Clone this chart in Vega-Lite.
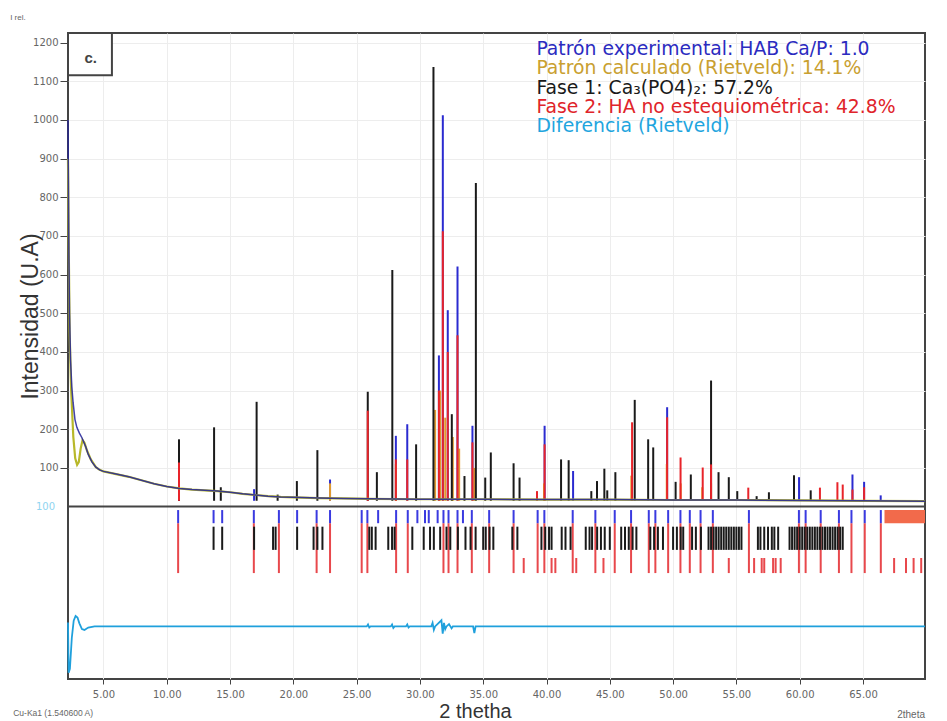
{
 "$schema": "https://vega.github.io/schema/vega-lite/v6.json",
 "width": 857, "height": 646,
 "autosize": {"type": "none"},
 "padding": {"left": 68, "top": 33, "right": 22, "bottom": 42},
 "background": "white",
 "config": {
  "view": {"stroke": "#444", "strokeWidth": 2},
  "font": "Liberation Sans"
 },
 "datasets": {
  "one": [{"k": 1}],
  "bg_exp": [
   {"t": 2.2, "v": 1000}, {"t": 2.23, "v": 850}, {"t": 2.27, "v": 650}, {"t": 2.32, "v": 500}, {"t": 2.4, "v": 380}, {"t": 2.5, "v": 310}, {"t": 2.6, "v": 270}, {"t": 2.75, "v": 225}, {"t": 2.9, "v": 205}, {"t": 3.1, "v": 190}, {"t": 3.3, "v": 178}, {"t": 3.6, "v": 155}, {"t": 3.8, "v": 135}, {"t": 4.1, "v": 115}, {"t": 4.4, "v": 102}, {"t": 4.7, "v": 95}, {"t": 5.0, "v": 91}, {"t": 6.0, "v": 84}, {"t": 7.0, "v": 77}, {"t": 8.0, "v": 68}, {"t": 9.0, "v": 59}, {"t": 10.0, "v": 52}, {"t": 11.0, "v": 47}, {"t": 12.0, "v": 44}, {"t": 13.0, "v": 42}, {"t": 14.0, "v": 40}, {"t": 15.0, "v": 37}, {"t": 16.0, "v": 33}, {"t": 17.0, "v": 30}, {"t": 18.0, "v": 27}, {"t": 19.0, "v": 25}, {"t": 20.0, "v": 24}, {"t": 22.0, "v": 22}, {"t": 24.0, "v": 21}, {"t": 26.0, "v": 20}, {"t": 30.0, "v": 19}, {"t": 35.0, "v": 19}, {"t": 40.0, "v": 18}, {"t": 45.0, "v": 18}, {"t": 50.0, "v": 17}, {"t": 55.0, "v": 17}, {"t": 60.0, "v": 16}, {"t": 65.0, "v": 15}, {"t": 69.9, "v": 14}
  ],
  "bg_calc": [
   {"t": 2.2, "v": 900}, {"t": 2.25, "v": 700}, {"t": 2.33, "v": 450}, {"t": 2.45, "v": 300}, {"t": 2.62, "v": 180}, {"t": 2.77, "v": 125}, {"t": 2.92, "v": 108}, {"t": 3.05, "v": 115}, {"t": 3.2, "v": 150}, {"t": 3.35, "v": 172}, {"t": 3.5, "v": 165}, {"t": 3.7, "v": 145}, {"t": 4.0, "v": 122}, {"t": 4.4, "v": 102}, {"t": 4.7, "v": 95}, {"t": 5.0, "v": 91}, {"t": 6.0, "v": 84}, {"t": 7.0, "v": 77}, {"t": 8.0, "v": 68}, {"t": 9.0, "v": 59}, {"t": 10.0, "v": 52}, {"t": 11.0, "v": 47}, {"t": 12.0, "v": 44}, {"t": 13.0, "v": 42}, {"t": 14.0, "v": 40}, {"t": 15.0, "v": 37}, {"t": 16.0, "v": 33}, {"t": 17.0, "v": 30}, {"t": 18.0, "v": 27}, {"t": 19.0, "v": 25}, {"t": 20.0, "v": 24}, {"t": 22.0, "v": 22}, {"t": 24.0, "v": 21}, {"t": 26.0, "v": 20}, {"t": 30.0, "v": 19}, {"t": 35.0, "v": 19}, {"t": 40.0, "v": 18}, {"t": 45.0, "v": 18}, {"t": 50.0, "v": 17}, {"t": 55.0, "v": 17}, {"t": 60.0, "v": 16}, {"t": 65.0, "v": 15}, {"t": 69.9, "v": 14}
  ],
  "sticks": [
   {"t": 10.97, "v": 120, "s": "exp"}, {"t": 16.9, "v": 45, "s": "exp"}, {"t": 22.9, "v": 70, "s": "exp"}, {"t": 28.1, "v": 183, "s": "exp"}, {"t": 29.0, "v": 213, "s": "exp"}, {"t": 31.5, "v": 391, "s": "exp"}, {"t": 31.81, "v": 1012, "s": "exp"}, {"t": 32.2, "v": 508, "s": "exp"}, {"t": 32.97, "v": 621, "s": "exp"}, {"t": 34.15, "v": 209, "s": "exp"}, {"t": 39.85, "v": 209, "s": "exp"}, {"t": 42.1, "v": 92, "s": "exp"}, {"t": 49.53, "v": 257, "s": "exp"}, {"t": 59.95, "v": 76, "s": "exp"}, {"t": 64.17, "v": 83, "s": "exp"}, {"t": 65.09, "v": 64, "s": "exp"}, {"t": 66.4, "v": 29, "s": "exp"},
   {"t": 22.9, "v": 60, "s": "calc"}, {"t": 28.1, "v": 110, "s": "calc"}, {"t": 31.2, "v": 250, "s": "calc"}, {"t": 31.6, "v": 300, "s": "calc"}, {"t": 32.0, "v": 230, "s": "calc"}, {"t": 32.6, "v": 180, "s": "calc"}, {"t": 33.1, "v": 150, "s": "calc"}, {"t": 34.3, "v": 100, "s": "calc"}, {"t": 39.8, "v": 60, "s": "calc"}, {"t": 46.7, "v": 80, "s": "calc"}, {"t": 49.5, "v": 110, "s": "calc"}, {"t": 50.6, "v": 60, "s": "calc"}, {"t": 52.3, "v": 50, "s": "calc"}, {"t": 53.0, "v": 60, "s": "calc"},
   {"t": 10.97, "v": 174, "s": "f1"}, {"t": 13.74, "v": 205, "s": "f1"}, {"t": 14.27, "v": 50, "s": "f1"}, {"t": 17.1, "v": 271, "s": "f1"}, {"t": 18.76, "v": 31, "s": "f1"}, {"t": 20.28, "v": 66, "s": "f1"}, {"t": 21.9, "v": 146, "s": "f1"}, {"t": 25.88, "v": 297, "s": "f1"}, {"t": 26.6, "v": 89, "s": "f1"}, {"t": 27.82, "v": 612, "s": "f1"}, {"t": 29.7, "v": 161, "s": "f1"}, {"t": 31.07, "v": 1137, "s": "f1"}, {"t": 32.52, "v": 239, "s": "f1"}, {"t": 33.52, "v": 79, "s": "f1"}, {"t": 34.42, "v": 837, "s": "f1"}, {"t": 35.16, "v": 75, "s": "f1"}, {"t": 35.6, "v": 140, "s": "f1"}, {"t": 37.4, "v": 112, "s": "f1"}, {"t": 37.87, "v": 75, "s": "f1"}, {"t": 41.15, "v": 122, "s": "f1"}, {"t": 41.75, "v": 120, "s": "f1"}, {"t": 43.54, "v": 40, "s": "f1"}, {"t": 43.99, "v": 66, "s": "f1"}, {"t": 44.57, "v": 98, "s": "f1"}, {"t": 44.8, "v": 42, "s": "f1"}, {"t": 45.44, "v": 89, "s": "f1"}, {"t": 46.97, "v": 276, "s": "f1"}, {"t": 48.03, "v": 174, "s": "f1"}, {"t": 48.43, "v": 153, "s": "f1"}, {"t": 50.2, "v": 64, "s": "f1"}, {"t": 51.4, "v": 83, "s": "f1"}, {"t": 53.0, "v": 326, "s": "f1"}, {"t": 53.59, "v": 89, "s": "f1"}, {"t": 54.4, "v": 76, "s": "f1"}, {"t": 55.07, "v": 40, "s": "f1"}, {"t": 56.6, "v": 27, "s": "f1"}, {"t": 57.57, "v": 37, "s": "f1"}, {"t": 59.55, "v": 81, "s": "f1"}, {"t": 60.87, "v": 42, "s": "f1"},
   {"t": 10.97, "v": 114, "s": "f2"}, {"t": 25.88, "v": 248, "s": "f2"}, {"t": 28.1, "v": 122, "s": "f2"}, {"t": 29.0, "v": 122, "s": "f2"}, {"t": 31.5, "v": 300, "s": "f2"}, {"t": 31.81, "v": 712, "s": "f2"}, {"t": 32.2, "v": 400, "s": "f2"}, {"t": 32.97, "v": 443, "s": "f2"}, {"t": 34.15, "v": 166, "s": "f2"}, {"t": 39.25, "v": 40, "s": "f2"}, {"t": 39.85, "v": 161, "s": "f2"}, {"t": 46.76, "v": 218, "s": "f2"}, {"t": 49.53, "v": 231, "s": "f2"}, {"t": 50.59, "v": 127, "s": "f2"}, {"t": 52.34, "v": 101, "s": "f2"}, {"t": 53.0, "v": 109, "s": "f2"}, {"t": 55.94, "v": 49, "s": "f2"}, {"t": 61.6, "v": 49, "s": "f2"}, {"t": 62.98, "v": 63, "s": "f2"}, {"t": 63.4, "v": 57, "s": "f2"}, {"t": 64.17, "v": 44, "s": "f2"}, {"t": 65.09, "v": 50, "s": "f2"}
  ],
  "ticks": [
   {"t": 10.9, "row": "blue"}, {"t": 13.7, "row": "blue"}, {"t": 14.38, "row": "blue"}, {"t": 16.88, "row": "blue"}, {"t": 18.86, "row": "blue"}, {"t": 20.3, "row": "blue"}, {"t": 21.84, "row": "blue"}, {"t": 22.9, "row": "blue"}, {"t": 25.4, "row": "blue"}, {"t": 25.85, "row": "blue"}, {"t": 26.7, "row": "blue"}, {"t": 28.12, "row": "blue"}, {"t": 29.04, "row": "blue"}, {"t": 29.8, "row": "blue"}, {"t": 30.4, "row": "blue"}, {"t": 30.7, "row": "blue"}, {"t": 31.4, "row": "blue"}, {"t": 31.86, "row": "blue"}, {"t": 32.26, "row": "blue"}, {"t": 32.97, "row": "blue"}, {"t": 33.4, "row": "blue"}, {"t": 34.1, "row": "blue"}, {"t": 35.47, "row": "blue"}, {"t": 37.4, "row": "blue"}, {"t": 39.3, "row": "blue"}, {"t": 39.83, "row": "blue"}, {"t": 42.07, "row": "blue"}, {"t": 43.86, "row": "blue"}, {"t": 45.39, "row": "blue"}, {"t": 46.68, "row": "blue"}, {"t": 48.08, "row": "blue"}, {"t": 48.6, "row": "blue"}, {"t": 49.61, "row": "blue"}, {"t": 50.58, "row": "blue"}, {"t": 51.32, "row": "blue"}, {"t": 52.17, "row": "blue"}, {"t": 53.14, "row": "blue"}, {"t": 55.99, "row": "blue"}, {"t": 59.94, "row": "blue"}, {"t": 60.47, "row": "blue"}, {"t": 61.66, "row": "blue"}, {"t": 63.1, "row": "blue"}, {"t": 64.09, "row": "blue"}, {"t": 65.14, "row": "blue"}, {"t": 66.41, "row": "blue"},
   {"t": 10.9, "row": "redlong"}, {"t": 16.88, "row": "redlong"}, {"t": 18.86, "row": "redlong"}, {"t": 21.84, "row": "redlong"}, {"t": 22.9, "row": "redlong"}, {"t": 25.4, "row": "redlong"}, {"t": 25.85, "row": "redlong"}, {"t": 28.12, "row": "redlong"}, {"t": 29.04, "row": "redlong"}, {"t": 31.86, "row": "redlong"}, {"t": 32.26, "row": "redlong"}, {"t": 32.97, "row": "redlong"}, {"t": 34.1, "row": "redlong"}, {"t": 35.47, "row": "redlong"}, {"t": 37.4, "row": "redlong"}, {"t": 39.3, "row": "redlong"}, {"t": 39.83, "row": "redlong"}, {"t": 42.07, "row": "redlong"}, {"t": 43.86, "row": "redlong"}, {"t": 45.39, "row": "redlong"}, {"t": 46.68, "row": "redlong"}, {"t": 48.08, "row": "redlong"}, {"t": 48.6, "row": "redlong"}, {"t": 49.61, "row": "redlong"}, {"t": 50.58, "row": "redlong"}, {"t": 51.32, "row": "redlong"}, {"t": 52.17, "row": "redlong"}, {"t": 53.14, "row": "redlong"}, {"t": 55.99, "row": "redlong"}, {"t": 59.94, "row": "redlong"}, {"t": 60.47, "row": "redlong"}, {"t": 61.66, "row": "redlong"}, {"t": 63.1, "row": "redlong"}, {"t": 64.09, "row": "redlong"}, {"t": 65.14, "row": "redlong"}, {"t": 66.41, "row": "redlong"},
   {"t": 38.2, "row": "redshort"}, {"t": 40.4, "row": "redshort"}, {"t": 40.7, "row": "redshort"}, {"t": 42.35, "row": "redshort"}, {"t": 44.5, "row": "redshort"}, {"t": 54.4, "row": "redshort"}, {"t": 56.4, "row": "redshort"}, {"t": 57.0, "row": "redshort"}, {"t": 57.2, "row": "redshort"}, {"t": 57.9, "row": "redshort"}, {"t": 58.1, "row": "redshort"}, {"t": 58.5, "row": "redshort"}, {"t": 67.46, "row": "redshort"}, {"t": 68.4, "row": "redshort"}, {"t": 69.0, "row": "redshort"}, {"t": 69.6, "row": "redshort"},
   {"t": 13.7, "row": "black"}, {"t": 14.38, "row": "black"}, {"t": 16.9, "row": "black"}, {"t": 18.4, "row": "black"}, {"t": 18.6, "row": "black"}, {"t": 20.3, "row": "black"}, {"t": 21.6, "row": "black"}, {"t": 21.9, "row": "black"}, {"t": 22.3, "row": "black"}, {"t": 26.0, "row": "black"}, {"t": 26.2, "row": "black"}, {"t": 26.5, "row": "black"}, {"t": 27.5, "row": "black"}, {"t": 27.8, "row": "black"}, {"t": 28.0, "row": "black"}, {"t": 29.4, "row": "black"}, {"t": 30.3, "row": "black"}, {"t": 30.8, "row": "black"}, {"t": 31.1, "row": "black"}, {"t": 31.6, "row": "black"}, {"t": 32.1, "row": "black"}, {"t": 32.4, "row": "black"}, {"t": 33.0, "row": "black"}, {"t": 33.6, "row": "black"}, {"t": 34.0, "row": "black"}, {"t": 34.4, "row": "black"}, {"t": 35.0, "row": "black"}, {"t": 35.2, "row": "black"}, {"t": 35.5, "row": "black"}, {"t": 35.8, "row": "black"}, {"t": 37.3, "row": "black"}, {"t": 37.7, "row": "black"}, {"t": 39.6, "row": "black"}, {"t": 39.9, "row": "black"}, {"t": 40.2, "row": "black"}, {"t": 40.4, "row": "black"}, {"t": 41.2, "row": "black"}, {"t": 41.5, "row": "black"}, {"t": 41.9, "row": "black"}, {"t": 43.1, "row": "black"}, {"t": 43.4, "row": "black"}, {"t": 43.6, "row": "black"}, {"t": 44.0, "row": "black"}, {"t": 44.3, "row": "black"}, {"t": 44.6, "row": "black"}, {"t": 45.0, "row": "black"}, {"t": 45.9, "row": "black"}, {"t": 46.2, "row": "black"}, {"t": 46.5, "row": "black"}, {"t": 46.8, "row": "black"}, {"t": 47.1, "row": "black"}, {"t": 48.2, "row": "black"}, {"t": 48.5, "row": "black"}, {"t": 48.8, "row": "black"}, {"t": 49.2, "row": "black"}, {"t": 50.0, "row": "black"}, {"t": 50.3, "row": "black"}, {"t": 50.6, "row": "black"}, {"t": 50.8, "row": "black"}, {"t": 51.5, "row": "black"}, {"t": 51.8, "row": "black"}, {"t": 52.2, "row": "black"}, {"t": 52.8, "row": "black"}, {"t": 53.0, "row": "black"}, {"t": 53.2, "row": "black"}, {"t": 53.4, "row": "black"}, {"t": 53.6, "row": "black"}, {"t": 53.8, "row": "black"}, {"t": 54.0, "row": "black"}, {"t": 54.2, "row": "black"}, {"t": 54.4, "row": "black"}, {"t": 54.6, "row": "black"}, {"t": 54.8, "row": "black"}, {"t": 55.0, "row": "black"}, {"t": 55.2, "row": "black"}, {"t": 55.4, "row": "black"}, {"t": 56.7, "row": "black"}, {"t": 56.9, "row": "black"}, {"t": 57.2, "row": "black"}, {"t": 57.5, "row": "black"}, {"t": 57.8, "row": "black"}, {"t": 58.0, "row": "black"}, {"t": 58.3, "row": "black"}, {"t": 59.2, "row": "black"}, {"t": 59.4, "row": "black"}, {"t": 59.6, "row": "black"}, {"t": 59.8, "row": "black"}, {"t": 60.0, "row": "black"}, {"t": 60.2, "row": "black"}, {"t": 60.4, "row": "black"}, {"t": 60.6, "row": "black"}, {"t": 60.8, "row": "black"}, {"t": 61.0, "row": "black"}, {"t": 61.2, "row": "black"}, {"t": 61.4, "row": "black"}, {"t": 61.6, "row": "black"}, {"t": 61.8, "row": "black"}, {"t": 62.0, "row": "black"}, {"t": 62.2, "row": "black"}, {"t": 62.4, "row": "black"}, {"t": 62.6, "row": "black"}, {"t": 62.8, "row": "black"}, {"t": 63.0, "row": "black"}, {"t": 63.2, "row": "black"}, {"t": 63.4, "row": "black"}
  ],
  "diff": [
   {"t": 2.2, "v": -300}, {"t": 2.25, "v": -430}, {"t": 2.35, "v": -420}, {"t": 2.5, "v": -340}, {"t": 2.65, "v": -295}, {"t": 2.8, "v": -283}, {"t": 2.95, "v": -287}, {"t": 3.1, "v": -302}, {"t": 3.3, "v": -317}, {"t": 3.5, "v": -319}, {"t": 3.8, "v": -313}, {"t": 4.3, "v": -310}, {"t": 25.8, "v": -310}, {"t": 25.9, "v": -305}, {"t": 26.0, "v": -313}, {"t": 26.1, "v": -310}, {"t": 27.7, "v": -310}, {"t": 27.8, "v": -305}, {"t": 27.9, "v": -314}, {"t": 28.0, "v": -310}, {"t": 28.9, "v": -310}, {"t": 29.0, "v": -305}, {"t": 29.1, "v": -313}, {"t": 29.2, "v": -310}, {"t": 30.9, "v": -310}, {"t": 31.0, "v": -301}, {"t": 31.1, "v": -319}, {"t": 31.2, "v": -310}, {"t": 31.7, "v": -294}, {"t": 31.8, "v": -329}, {"t": 31.9, "v": -301}, {"t": 32.0, "v": -317}, {"t": 32.1, "v": -310}, {"t": 32.3, "v": -304}, {"t": 32.5, "v": -315}, {"t": 32.6, "v": -310}, {"t": 34.2, "v": -310}, {"t": 34.3, "v": -327}, {"t": 34.4, "v": -310}, {"t": 69.9, "v": -310}
  ]
 },
 "layer": [
  {
   "data": {"name": "sticks"},
   "mark": {"type": "rule", "strokeWidth": 2},
   "encoding": {
    "x": {"field": "t", "type": "quantitative", "scale": {"domain": [2.2, 69.9], "nice": false, "zero": false},
      "axis": {"values": [5, 10, 15, 20, 25, 30, 35, 40, 45, 50, 55, 60, 65], "format": ".2f", "labelFont": "DejaVu Sans", "labelFontSize": 10, "labelColor": "#666", "tickColor": "#444", "tickSize": 5, "labelPadding": 5, "domain": false, "grid": true, "gridColor": "#ededed", "title": "2 thetha", "titleFont": "Liberation Sans", "titleFontSize": 20, "titleFontWeight": "normal", "titleColor": "#333", "titleX": 407, "titleY": 38, "titleBaseline": "alphabetic", "titleAlign": "center"}},
    "y": {"field": "v", "type": "quantitative", "scale": {"domain": [-446, 1225], "nice": false, "zero": false},
      "axis": {"values": [100, 200, 300, 400, 500, 600, 700, 800, 900, 1000, 1100, 1200], "format": "d", "labelFont": "DejaVu Sans", "labelFontSize": 10, "labelColor": "#666", "tickColor": "#444", "tickSize": 8, "labelPadding": 2, "domain": false, "grid": true, "gridColor": "#ededed", "title": "Intensidad (U.A)", "titleFont": "Liberation Sans", "titleFontSize": 23, "titleFontWeight": "normal", "titleColor": "#333", "titleX": -31, "titleY": 283, "titleAngle": -90, "titleBaseline": "alphabetic", "titleAlign": "center"}},
    "y2": {"datum": 15},
    "color": {"field": "s", "type": "nominal", "scale": {"domain": ["exp", "calc", "f1", "f2"], "range": ["#2b2bd0", "#e09a30", "#1a1a1a", "#e8242a"]}, "legend": null}
   }
  },
  {
   "data": {"name": "bg_calc"},
   "mark": {"type": "line", "color": "#b8b82a", "strokeWidth": 2.2},
   "encoding": {"x": {"field": "t", "type": "quantitative"}, "y": {"field": "v", "type": "quantitative"}}
  },
  {
   "data": {"name": "bg_exp"},
   "mark": {"type": "line", "color": "#22229a", "strokeWidth": 1.5, "opacity": 0.85},
   "encoding": {"x": {"field": "t", "type": "quantitative"}, "y": {"field": "v", "type": "quantitative"}}
  },
  {
   "data": {"name": "one"},
   "mark": {"type": "rule", "color": "#444", "strokeWidth": 2},
   "encoding": {"y": {"datum": 0}}
  },
  {
   "data": {"name": "ticks"},
   "transform": [{"filter": "datum.row === 'redlong'"}],
   "mark": {"type": "rule", "color": "#e8484c", "strokeWidth": 2},
   "encoding": {"x": {"field": "t", "type": "quantitative"}, "y": {"datum": -43}, "y2": {"datum": -172}}
  },
  {
   "data": {"name": "ticks"},
   "transform": [{"filter": "datum.row === 'redshort'"}],
   "mark": {"type": "rule", "color": "#e8484c", "strokeWidth": 2},
   "encoding": {"x": {"field": "t", "type": "quantitative"}, "y": {"datum": -133}, "y2": {"datum": -172}}
  },
  {
   "data": {"name": "ticks"},
   "transform": [{"filter": "datum.row === 'black'"}],
   "mark": {"type": "rule", "color": "#1a1a1a", "strokeWidth": 2},
   "encoding": {"x": {"field": "t", "type": "quantitative"}, "y": {"datum": -52}, "y2": {"datum": -112}}
  },
  {
   "data": {"name": "ticks"},
   "transform": [{"filter": "datum.row === 'blue'"}],
   "mark": {"type": "rule", "color": "#3a3ae0", "strokeWidth": 2},
   "encoding": {"x": {"field": "t", "type": "quantitative"}, "y": {"datum": -9}, "y2": {"datum": -43}}
  },
  {
   "data": {"name": "one"},
   "mark": {"type": "rect", "color": "#f26a4b"},
   "encoding": {"x": {"datum": 66.7}, "x2": {"datum": 69.9}, "y": {"datum": -9}, "y2": {"datum": -43}}
  },
  {
   "data": {"name": "diff"},
   "mark": {"type": "line", "color": "#1fa0dc", "strokeWidth": 1.8},
   "encoding": {"x": {"field": "t", "type": "quantitative"}, "y": {"field": "v", "type": "quantitative"}}
  },
  {
   "data": {"name": "one"},
   "mark": {"type": "rect", "fill": "white", "stroke": "#444", "strokeWidth": 2},
   "encoding": {"x": {"datum": 2.2}, "x2": {"datum": 5.67}, "y": {"datum": 1225}, "y2": {"datum": 1116}}
  },
  {
   "data": {"name": "one"},
   "mark": {"type": "text", "text": "c.", "fontSize": 15, "fontWeight": "bold", "color": "#444", "align": "left", "baseline": "middle"},
   "encoding": {"x": {"datum": 3.5}, "y": {"datum": 1160}}
  },
  {
   "data": {"name": "one"},
   "mark": {"type": "text", "text": "Patrón experimental: HAB Ca/P: 1.0", "font": "DejaVu Sans", "fontSize": 18.8, "color": "#2b2bc0", "align": "left", "baseline": "middle"},
   "encoding": {"x": {"datum": 39.2}, "y": {"datum": 1184}}
  },
  {
   "data": {"name": "one"},
   "mark": {"type": "text", "text": "Patrón calculado (Rietveld): 14.1%", "font": "DejaVu Sans", "fontSize": 18.8, "color": "#c9a030", "align": "left", "baseline": "middle"},
   "encoding": {"x": {"datum": 39.2}, "y": {"datum": 1134}}
  },
  {
   "data": {"name": "one"},
   "mark": {"type": "text", "text": "Fase 1: Ca₃(PO4)₂: 57.2%", "font": "DejaVu Sans", "fontSize": 18.8, "color": "#1a1a1a", "align": "left", "baseline": "middle"},
   "encoding": {"x": {"datum": 39.2}, "y": {"datum": 1084}}
  },
  {
   "data": {"name": "one"},
   "mark": {"type": "text", "text": "Fase 2: HA no estequiométrica: 42.8%", "font": "DejaVu Sans", "fontSize": 18.8, "color": "#e0242a", "align": "left", "baseline": "middle"},
   "encoding": {"x": {"datum": 39.2}, "y": {"datum": 1034}}
  },
  {
   "data": {"name": "one"},
   "mark": {"type": "text", "text": "Diferencia (Rietveld)", "font": "DejaVu Sans", "fontSize": 18.8, "color": "#1fa5de", "align": "left", "baseline": "middle"},
   "encoding": {"x": {"datum": 39.2}, "y": {"datum": 984}}
  },
  {
   "data": {"name": "one"},
   "mark": {"type": "text", "text": "I rel.", "fontSize": 8, "color": "#666", "align": "left", "baseline": "middle"},
   "encoding": {"x": {"datum": -2.37}, "y": {"datum": 1264}}
  },
  {
   "data": {"name": "one"},
   "mark": {"type": "text", "text": "100", "font": "DejaVu Sans", "fontSize": 10, "color": "#8fd4f0", "align": "right", "baseline": "middle"},
   "encoding": {"x": {"datum": 1.18}, "y": {"datum": 0}}
  },
  {
   "data": {"name": "one"},
   "mark": {"type": "text", "text": "Cu-Ka1 (1.540600 A)", "fontSize": 8.5, "color": "#666", "align": "left", "baseline": "middle"},
   "encoding": {"x": {"datum": -2.13}, "y": {"datum": -533}}
  },
  {
   "data": {"name": "one"},
   "mark": {"type": "text", "text": "2theta", "fontSize": 10, "color": "#666", "align": "right", "baseline": "middle"},
   "encoding": {"x": {"datum": 69.9}, "y": {"datum": -538}}
  }
 ]
}
